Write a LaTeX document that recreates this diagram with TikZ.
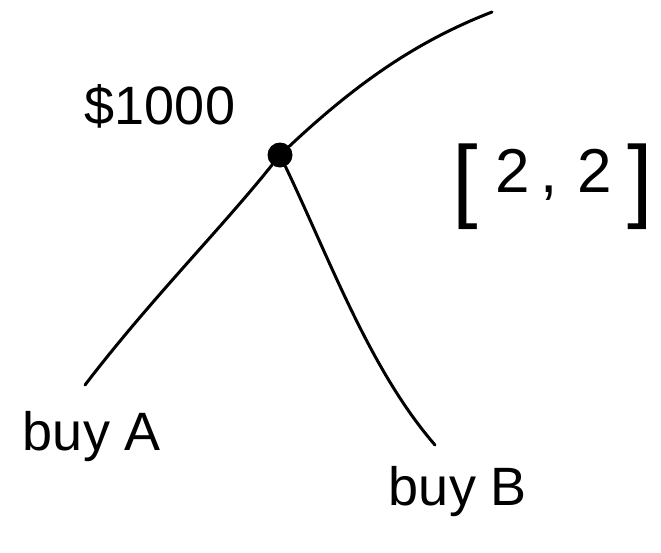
\documentclass[tikz,border=0pt]{standalone}
\usepackage{fontspec}
\setmainfont{Liberation Sans}
\newcommand{\bigbr}[1]{\raisebox{-18pt}{\fontsize{92}{96}\selectfont #1}}
\begin{document}
\begin{tikzpicture}[x=1pt,y=-1pt,
  stroke/.style={line width=3pt,line cap=round,line join=round},
  lbl/.style={inner sep=0pt,font=\fontsize{54}{60}\selectfont}]
\useasboundingbox (0,0) rectangle (661,552);
\node[circle,fill=black,minimum size=25pt,inner sep=0pt] (d) at (280,155) {};
\coordinate (top) at (492,12);
\coordinate (la) at (85,385);
\coordinate (lb) at (435,445);
\draw[stroke] (d) .. controls (360,80) and (420,40) .. (top);
\draw[stroke] (d) .. controls (220,230) and (150,300) .. (la);
\draw[stroke] (d) .. controls (330,260) and (370,370) .. (lb);
\node[lbl,anchor=base] (money) at (160,124) {\$1000};
\node[lbl,anchor=base west,font=\fontsize{62}{66}\selectfont] (vec) at (452,192) {\bigbr{[}\hspace{18pt}2\hspace{10pt},\hspace{20pt}2\hspace{16pt}\bigbr{]}};
\node[lbl,anchor=base,font=\fontsize{54}{60}\selectfont] (ba) at (92,450) {buy A};
\node[lbl,anchor=base,font=\fontsize{54}{60}\selectfont] (bb) at (458,505) {buy B};
\end{tikzpicture}
\end{document}
